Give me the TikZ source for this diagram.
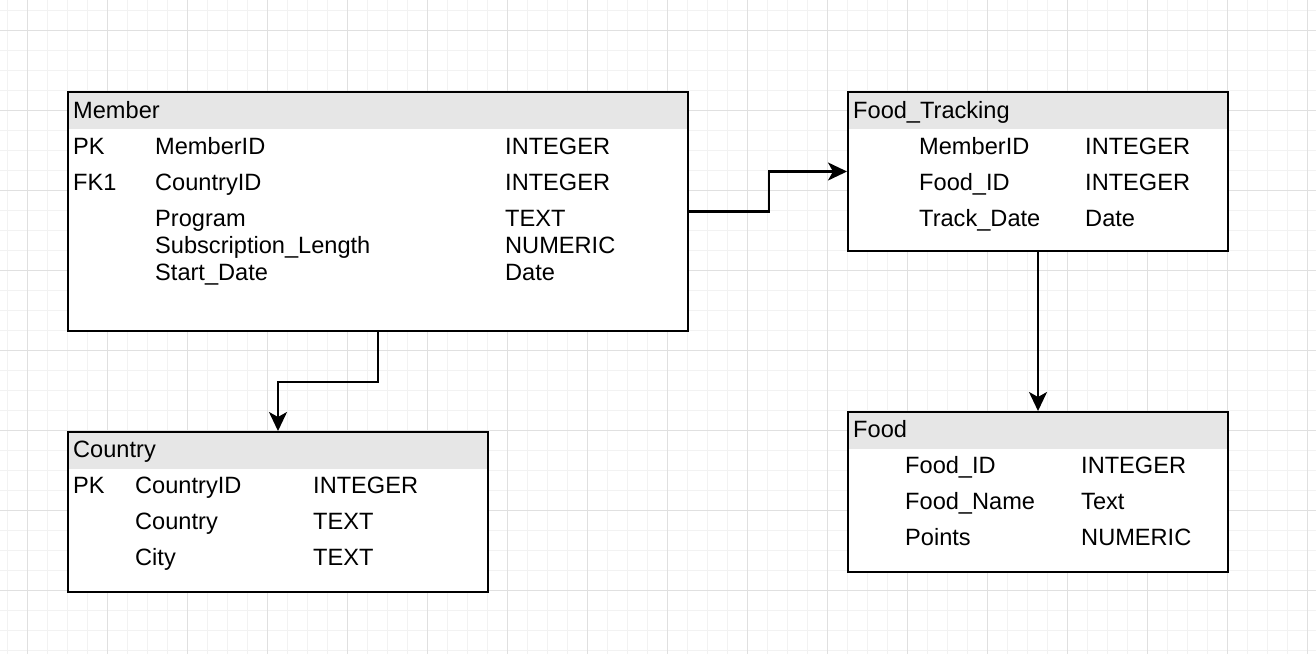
\documentclass[tikz,border=0pt]{standalone}
\usepackage{fontspec}
\setmainfont{Liberation Sans}
\usetikzlibrary{arrows.meta}
\definecolor{hdrgray}{RGB}{230,230,230}
\definecolor{minorgrid}{RGB}{242,242,242}
\definecolor{majorgrid}{RGB}{224,224,224}

\begin{document}
\begin{tikzpicture}[x=1pt, y=-1pt,
  tbl/.style={draw, fill=white, line width=2pt, anchor=north west, inner sep=0pt,
    path picture={\fill[hdrgray] (path picture bounding box.north west) rectangle ([yshift=-37pt]path picture bounding box.north east);}},
  txt/.style={anchor=base west, inner sep=0pt, font=\fontsize{23.6}{28}\selectfont},
  link/.style={line width=2.2pt, -{Stealth[length=19pt, width=18pt, inset=5pt]}}]
				\useasboundingbox (0,0) rectangle (1316,654);
				% grid paper
				\foreach \x in {7,27,...,1307} \draw[minorgrid, line width=1pt] (\x,0) -- (\x,654);
				\foreach \y in {10,30,...,650} \draw[minorgrid, line width=1pt] (0,\y) -- (1316,\y);
				\foreach \x in {27,107,...,1307} \draw[majorgrid, line width=1pt] (\x,0) -- (\x,654);
				\foreach \y in {30,110,...,590} \draw[majorgrid, line width=1pt] (0,\y) -- (1316,\y);

				\node[tbl, minimum width=620pt, minimum height=239pt] (member) at (67,91) {};
				\node[tbl, minimum width=380pt, minimum height=159pt] (track) at (847,91) {};
				\node[tbl, minimum width=420pt, minimum height=160pt] (country) at (67,431) {};
				\node[tbl, minimum width=380pt, minimum height=160pt] (food) at (847,411) {};

				% Member
				\node[txt] (m-title) at (73,118) {Member};
				\node[txt] (m-pk) at (73,154) {PK}; \node[txt] (m-id) at (155,154) {MemberID}; \node[txt] (m-idt) at (505,154) {INTEGER};
				\node[txt] (m-fk) at (73,190) {FK1}; \node[txt] (m-cid) at (155,190) {CountryID}; \node[txt] (m-cidt) at (505,190) {INTEGER};
				\node[txt] (m-prog) at (155,226) {Program}; \node[txt] (m-progt) at (505,226) {TEXT};
				\node[txt] (m-sub) at (155,253) {Subscription\_Length}; \node[txt] (m-subt) at (505,253) {NUMERIC};
				\node[txt] (m-start) at (155,280) {Start\_Date}; \node[txt] (m-startt) at (505,280) {Date};

				% Food_Tracking
				\node[txt] (t-title) at (853,118) {Food\_Tracking};
				\node[txt] (t-mid) at (919,154) {MemberID}; \node[txt] (t-midt) at (1085,154) {INTEGER};
				\node[txt] (t-fid) at (919,190) {Food\_ID}; \node[txt] (t-fidt) at (1085,190) {INTEGER};
				\node[txt] (t-date) at (919,226) {Track\_Date}; \node[txt] (t-datet) at (1085,226) {Date};

				% Country
				\node[txt] (c-title) at (73,457) {Country};
				\node[txt] (c-pk) at (73,493) {PK}; \node[txt] (c-id) at (135,493) {CountryID}; \node[txt] (c-idt) at (313,493) {INTEGER};
				\node[txt] (c-name) at (135,529) {Country}; \node[txt] (c-namet) at (313,529) {TEXT};
				\node[txt] (c-city) at (135,565) {City}; \node[txt] (c-cityt) at (313,565) {TEXT};

				% Food
				\node[txt] (f-title) at (853,437) {Food};
				\node[txt] (f-id) at (905,473) {Food\_ID}; \node[txt] (f-idt) at (1081,473) {INTEGER};
				\node[txt] (f-name) at (905,509) {Food\_Name}; \node[txt] (f-namet) at (1081,509) {Text};
				\node[txt] (f-pts) at (905,545) {Points}; \node[txt] (f-ptst) at (1081,545) {NUMERIC};

				\draw[link] (member.east) -- ++(80,0) |- (track.west);
				\draw[link] (member.south) -- ++(0,50) -| (country.north);
				\draw[link] (track.south) -- (food.north);
			\end{tikzpicture}
\end{document}
